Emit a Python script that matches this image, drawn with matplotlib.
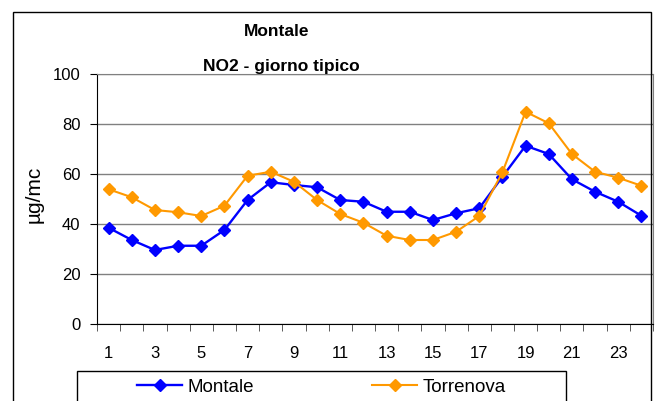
import matplotlib.pyplot as plt
from matplotlib.patches import Rectangle
import numpy as np

plt.rcParams["font.family"] = ["Liberation Sans", "DejaVu Sans"]

hours = list(range(1, 25))
montale = [38.5, 33.6, 29.6, 31.3, 31.3, 37.6, 49.6, 56.7, 55.6, 54.7, 49.6, 48.9,
           44.9, 44.9, 41.6, 44.3, 46.3, 58.9, 71.3, 68.0, 57.9, 52.9, 48.9, 43.3]
torrenova = [53.9, 50.7, 45.6, 44.7, 43.2, 47.3, 59.3, 60.9, 56.9, 49.6, 44.0, 40.5,
             35.3, 33.6, 33.6, 36.9, 43.2, 60.7, 84.9, 80.3, 68.0, 60.9, 58.5, 55.3]
yticks = [0, 20, 40, 60, 80, 100]

W, H = 655, 401
fig = plt.figure(figsize=(W / 100, H / 100), dpi=100)

# outer chart frame and legend frame (both run off the bottom of the image)
fig.patches.append(Rectangle((13 / W, -0.1), (651 - 13) / W, 1 - 12 / H + 0.1,
                             transform=fig.transFigure, fill=False, ec="black", lw=1))
fig.patches.append(Rectangle((77 / W, -0.1), (566 - 77) / W, 1 - 371 / H + 0.1,
                             transform=fig.transFigure, fill=False, ec="black", lw=1))

ax = fig.add_axes([97 / W, (H - 324) / H, (653 - 97) / W, 250 / H])
ax.plot(hours, montale, color="#0000FF", lw=1.7, marker="D", ms=6.5, label="Montale")
ax.plot(hours, torrenova, color="#FF9900", lw=1.5, marker="D", ms=6.5, label="Torrenova")

ax.set_xlim(0.5, 24.5)
ax.set_ylim(0, 100)
ax.set_yticks(yticks)
ax.set_xticks(hours[::2])
ax.set_xticks(np.arange(0.5, 25, 1), minor=True)
ax.tick_params(axis="x", which="major", length=0, pad=16, labelsize=12)
ax.tick_params(axis="x", which="minor", length=5, direction="out", color="#404040")
ax.tick_params(axis="y", length=5, pad=7, labelsize=12)
ax.grid(axis="y", color="#808080", lw=1)
ax.set_axisbelow(True)
for s in ["top", "right"]:
    ax.spines[s].set_color("#808080")
ax.spines["left"].set_color("black")
ax.spines["bottom"].set_color("black")

fig.text(34 / W, 1 - 194 / H, "µg/mc", rotation=90, ha="center", va="center", fontsize=15)

fig.text(277 / W, 1 - 32 / H, "Montale", ha="center", va="center", fontsize=12.5, fontweight="bold")
fig.text(281 / W, 1 - 66 / H, "NO2 - giorno tipico", ha="center", va="center",
         fontsize=12.5, fontweight="bold")

fig.legend(loc="center left", bbox_to_anchor=(137 / W, 1 - 387 / H), ncol=2, frameon=False,
           fontsize=13.5, handlelength=2.4, handletextpad=0.3, columnspacing=6.3,
           borderpad=0, borderaxespad=0)

fig.savefig("out.png", dpi=100)
